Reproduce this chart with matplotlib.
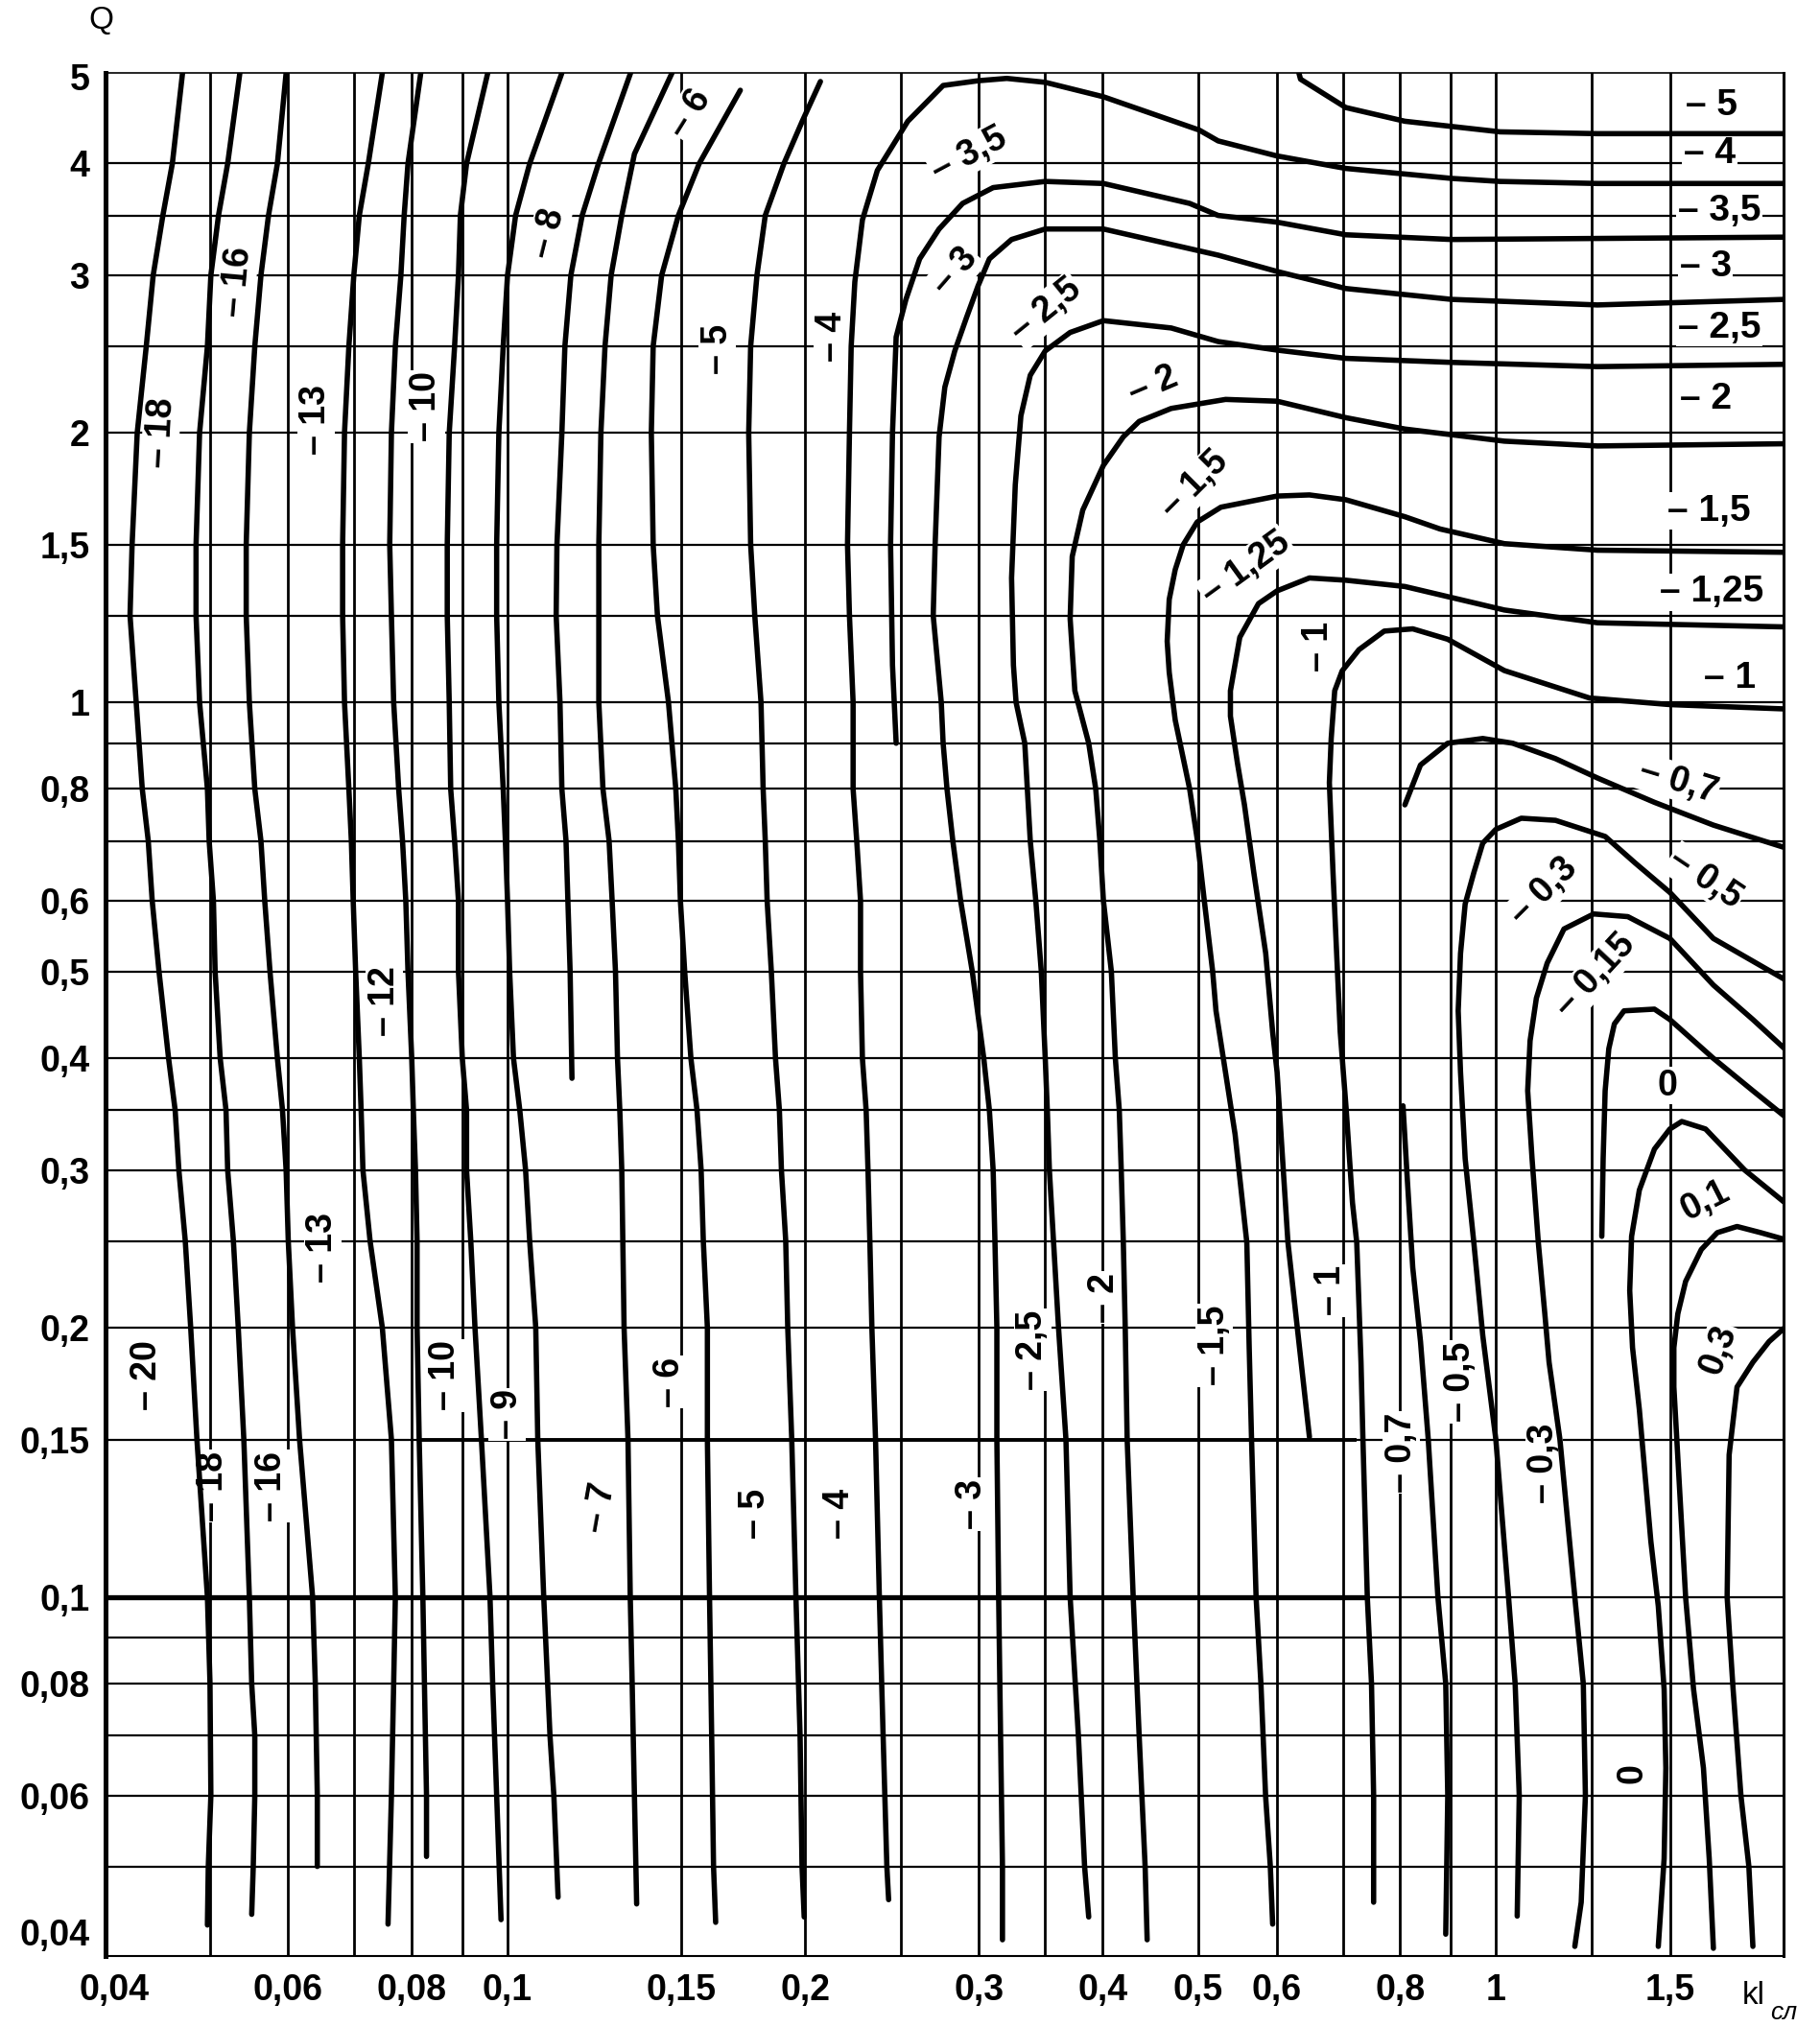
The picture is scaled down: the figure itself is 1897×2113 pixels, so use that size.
import matplotlib
matplotlib.use('Agg')
import matplotlib.pyplot as plt

plt.rcParams['font.family'] = ['Liberation Sans', 'DejaVu Sans']

# ---- axes ticks ----
x_ticks = [0.04, 0.06, 0.08, 0.1, 0.15, 0.2, 0.3, 0.4, 0.5, 0.6, 0.8, 1, 1.5]
x_tick_labels = ['0,04', '0,06', '0,08', '0,1', '0,15', '0,2', '0,3', '0,4', '0,5', '0,6', '0,8', '1', '1,5']
y_ticks = [5, 4, 3, 2, 1.5, 1, 0.8, 0.6, 0.5, 0.4, 0.3, 0.2, 0.15, 0.1, 0.08, 0.06, 0.04]
y_tick_labels = ['5', '4', '3', '2', '1,5', '1', '0,8', '0,6', '0,5', '0,4', '0,3', '0,2', '0,15', '0,1', '0,08', '0,06', '0,04']

grid_x = [0.05, 0.06, 0.07, 0.08, 0.09, 0.1, 0.15, 0.2, 0.25, 0.3, 0.35, 0.4, 0.5, 0.6, 0.7, 0.8, 0.9, 1.0, 1.25, 1.5]
grid_y = [4, 3.5, 3, 2.5, 2, 1.5, 1.25, 1, 0.9, 0.8, 0.7, 0.6, 0.5, 0.4, 0.35, 0.3, 0.25, 0.2, 0.15, 0.1,
          0.09, 0.08, 0.07, 0.06, 0.05]
heavy_01_span = [0.0392, 0.74]     # thick line at Q = 0,1
heavy_015_span = [0.082, 0.72]     # thick line at Q = 0,15

# ---- contour lines (kl, Q) ----
k_m20 = [(0.0469, 5.05), (0.0458, 4.0), (0.0448, 3.5), (0.0438, 3.0), (0.0431, 2.5), (0.0422, 2.0), (0.0417, 1.5),
         (0.0415, 1.25), (0.0421, 1.0), (0.0427, 0.8), (0.0433, 0.7), (0.0437, 0.6), (0.0444, 0.5), (0.0454, 0.4),
         (0.0461, 0.35), (0.0465, 0.3), (0.0472, 0.25), (0.0478, 0.2), (0.0485, 0.15), (0.0497, 0.1),
         (0.0500, 0.08), (0.0501, 0.06), (0.0498, 0.05), (0.0497, 0.043)]
k_m18 = [(0.0536, 5.05), (0.0521, 4.0), (0.0510, 3.5), (0.0501, 3.0), (0.0497, 2.5), (0.0488, 2.0), (0.0484, 1.5),
         (0.0484, 1.25), (0.0488, 1.0), (0.0497, 0.8), (0.0499, 0.7), (0.0504, 0.6), (0.0506, 0.5), (0.0512, 0.4),
         (0.0519, 0.35), (0.0521, 0.3), (0.0528, 0.25), (0.0534, 0.2), (0.0541, 0.15), (0.0548, 0.1),
         (0.0551, 0.08), (0.0555, 0.07), (0.0555, 0.06), (0.0553, 0.05), (0.0551, 0.0442)]
k_m16 = [(0.0597, 5.05), (0.0585, 4.0), (0.0573, 3.5), (0.0563, 3.0), (0.0555, 2.5), (0.0548, 2.0), (0.0544, 1.5),
         (0.0544, 1.25), (0.0548, 1.0), (0.0555, 0.8), (0.0563, 0.7), (0.0568, 0.6), (0.0575, 0.5), (0.0585, 0.4),
         (0.0592, 0.35), (0.0597, 0.3), (0.0600, 0.25), (0.0606, 0.2), (0.0616, 0.15), (0.0635, 0.1),
         (0.0639, 0.08), (0.0642, 0.06), (0.0642, 0.05)]
k_m13 = [(0.0747, 5.05), (0.0723, 4.0), (0.0708, 3.5), (0.0699, 3.0), (0.0691, 2.5), (0.0684, 2.0), (0.0681, 1.5),
         (0.0681, 1.25), (0.0684, 1.0), (0.0691, 0.8), (0.0695, 0.7), (0.0698, 0.6), (0.0702, 0.5), (0.0708, 0.4),
         (0.0711, 0.35), (0.0714, 0.3), (0.0726, 0.25), (0.0747, 0.2), (0.0763, 0.15), (0.0770, 0.1),
         (0.0767, 0.08), (0.0763, 0.06), (0.0757, 0.0431)]
k_m12 = [(0.0817, 5.05), (0.0793, 4.0), (0.0786, 3.5), (0.0780, 3.0), (0.0770, 2.5), (0.0763, 2.0), (0.0760, 1.5),
         (0.0763, 1.25), (0.0767, 1.0), (0.0776, 0.8), (0.0783, 0.7), (0.0789, 0.6), (0.0793, 0.5), (0.0800, 0.4),
         (0.0803, 0.35), (0.0807, 0.3), (0.0810, 0.25), (0.0810, 0.2), (0.0814, 0.15), (0.0821, 0.1),
         (0.0824, 0.08), (0.0828, 0.06), (0.0828, 0.0513)]
k_m10 = [(0.0955, 5.05), (0.0909, 4.0), (0.0896, 3.5), (0.0892, 3.0), (0.0884, 2.5), (0.0873, 2.0), (0.0869, 1.5),
         (0.0869, 1.25), (0.0873, 1.0), (0.0876, 0.8), (0.0884, 0.7), (0.0892, 0.6), (0.0892, 0.5), (0.0900, 0.4),
         (0.0909, 0.35), (0.0909, 0.3), (0.0918, 0.25), (0.0927, 0.2), (0.0941, 0.15), (0.0960, 0.1),
         (0.0966, 0.08), (0.0975, 0.06), (0.0985, 0.0436)]
k_m9 = [(0.1135, 5.05), (0.1053, 4.0), (0.1019, 3.5), (0.1000, 3.0), (0.0990, 2.5), (0.0980, 2.0), (0.0975, 1.5),
        (0.0975, 1.25), (0.0980, 1.0), (0.0990, 0.8), (0.0995, 0.7), (0.1000, 0.6), (0.1005, 0.5), (0.1014, 0.4),
        (0.1029, 0.35), (0.1043, 0.3), (0.1053, 0.25), (0.1068, 0.2), (0.1073, 0.15), (0.1088, 0.1),
        (0.1104, 0.07), (0.1114, 0.06), (0.1125, 0.0462)]
k_m8 = [(0.1332, 5.05), (0.1236, 4.0), (0.1190, 3.5), (0.1159, 3.0), (0.1143, 2.5), (0.1135, 2.0), (0.1122, 1.5),
        (0.1120, 1.25), (0.1130, 1.0), (0.1135, 0.8), (0.1146, 0.7), (0.1151, 0.6), (0.1157, 0.5), (0.1162, 0.38)]
k_m7 = [(0.1467, 5.05), (0.1344, 4.1), (0.1305, 3.5), (0.1273, 3.0), (0.1255, 2.5), (0.1243, 2.0), (0.1237, 1.5),
        (0.1237, 1.25), (0.1237, 1.0), (0.1249, 0.8), (0.1267, 0.7), (0.1276, 0.6), (0.1286, 0.5), (0.1292, 0.4),
        (0.1299, 0.35), (0.1305, 0.3), (0.1312, 0.2), (0.1324, 0.15), (0.1331, 0.1), (0.1337, 0.08),
        (0.1344, 0.06), (0.1351, 0.0454)]
k_m6 = [(0.1720, 4.83), (0.1563, 4.0), (0.1489, 3.5), (0.1432, 3.0), (0.1404, 2.5), (0.1398, 2.0), (0.1404, 1.5),
        (0.1418, 1.25), (0.1455, 1.0), (0.1480, 0.8), (0.1489, 0.7), (0.1496, 0.6), (0.1511, 0.5), (0.1533, 0.4),
        (0.1555, 0.35), (0.1570, 0.3), (0.1578, 0.25), (0.1593, 0.2), (0.1593, 0.15), (0.1601, 0.1),
        (0.1609, 0.07), (0.1616, 0.05), (0.1624, 0.0433)]
k_m5 = [(0.2073, 4.94), (0.1987, 4.46), (0.1904, 4.0), (0.1823, 3.5), (0.1788, 3.0), (0.1762, 2.5), (0.1754, 2.0),
        (0.1762, 1.5), (0.1779, 1.25), (0.1805, 1.0), (0.1814, 0.8), (0.1823, 0.7), (0.1831, 0.6), (0.1849, 0.5),
        (0.1867, 0.4), (0.1884, 0.35), (0.1893, 0.3), (0.1912, 0.25), (0.1921, 0.2), (0.1939, 0.15),
        (0.1958, 0.1), (0.1977, 0.07), (0.1986, 0.05), (0.1996, 0.0439)]
k_m5_top = [(0.632, 5.05), (0.6344, 4.97), (0.705, 4.62), (0.809, 4.46), (1.01, 4.34), (1.267, 4.32), (1.96, 4.32)]
k_m4 = [(1.96, 3.80), (1.267, 3.80), (1.01, 3.82), (0.902, 3.85), (0.705, 3.95), (0.600, 4.08), (0.5236, 4.24),
        (0.501, 4.36), (0.4008, 4.75), (0.350, 4.93), (0.320, 4.98), (0.2993, 4.95), (0.2759, 4.89),
        (0.2541, 4.46), (0.2367, 3.93), (0.2286, 3.46), (0.2246, 2.95), (0.2227, 2.5), (0.2218, 2.0),
        (0.2208, 1.5), (0.2218, 1.25), (0.2237, 1.0), (0.2237, 0.8), (0.2256, 0.7), (0.2276, 0.6), (0.2276, 0.5),
        (0.2286, 0.4), (0.2306, 0.35), (0.2316, 0.3), (0.2326, 0.25), (0.2337, 0.2), (0.2357, 0.15),
        (0.2378, 0.1), (0.2399, 0.07), (0.2420, 0.05), (0.2430, 0.0459)]
k_m3_5 = [(1.96, 3.31), (0.902, 3.29), (0.705, 3.33), (0.6007, 3.44), (0.5236, 3.50), (0.49, 3.61), (0.4008, 3.80),
          (0.350, 3.82), (0.310, 3.76), (0.2887, 3.61), (0.2733, 3.38), (0.2612, 3.13), (0.2530, 2.82),
          (0.2473, 2.56), (0.2452, 2.0), (0.2441, 1.5), (0.2452, 1.1), (0.2473, 0.9)]
k_m3 = [(1.96, 2.82), (1.267, 2.78), (0.902, 2.82), (0.705, 2.90), (0.6007, 3.03), (0.5236, 3.16), (0.4008, 3.38),
        (0.350, 3.38), (0.3236, 3.29), (0.3073, 3.13), (0.2993, 2.92), (0.2913, 2.69), (0.2835, 2.47),
        (0.2770, 2.25), (0.2733, 1.98), (0.2708, 1.5), (0.2696, 1.25), (0.2747, 1.0), (0.2759, 0.9),
        (0.2784, 0.8), (0.2822, 0.7), (0.2874, 0.6), (0.2953, 0.5), (0.3033, 0.4), (0.3073, 0.35), (0.3100, 0.3),
        (0.3113, 0.25), (0.3127, 0.2), (0.3127, 0.15), (0.3140, 0.1), (0.3154, 0.07), (0.3168, 0.05),
        (0.3168, 0.0414)]
k_m2_5 = [(1.96, 2.386), (1.267, 2.372), (0.902, 2.398), (0.705, 2.423), (0.6007, 2.475), (0.5236, 2.53),
          (0.4694, 2.62), (0.4008, 2.67), (0.3709, 2.59), (0.350, 2.47), (0.338, 2.32), (0.3307, 2.09),
          (0.3264, 1.75), (0.3236, 1.377), (0.3250, 1.1), (0.3270, 1.0), (0.3337, 0.9), (0.3380, 0.7),
          (0.3424, 0.6), (0.3468, 0.5), (0.3500, 0.4), (0.3517, 0.35), (0.3534, 0.3), (0.3568, 0.25),
          (0.3610, 0.2), (0.3673, 0.15), (0.3709, 0.1), (0.3781, 0.07), (0.3836, 0.05), (0.3873, 0.0439)]
k_m2 = [(1.96, 1.945), (1.267, 1.934), (1.02, 1.958), (0.809, 2.02), (0.705, 2.08), (0.6007, 2.17), (0.5328, 2.18),
        (0.4694, 2.13), (0.4356, 2.06), (0.4198, 1.98), (0.4008, 1.84), (0.382, 1.64), (0.3727, 1.455),
        (0.3709, 1.24), (0.375, 1.03), (0.3873, 0.9), (0.3937, 0.8), (0.3975, 0.7), (0.4008, 0.6), (0.4083, 0.5),
        (0.4121, 0.4), (0.4159, 0.35), (0.4178, 0.3), (0.4198, 0.25), (0.4217, 0.2), (0.4236, 0.15),
        (0.4296, 0.1), (0.4356, 0.07), (0.4417, 0.05), (0.4438, 0.0414)]
k_m1_5 = [(1.96, 1.471), (1.267, 1.479), (1.02, 1.504), (0.878, 1.562), (0.809, 1.612), (0.705, 1.684),
          (0.6477, 1.705), (0.6007, 1.70), (0.527, 1.652), (0.4986, 1.59), (0.4827, 1.50), (0.4738, 1.407),
          (0.4672, 1.303), (0.465, 1.17), (0.4672, 1.08), (0.4738, 0.955), (0.490, 0.8), (0.499, 0.7),
          (0.507, 0.6), (0.517, 0.5), (0.521, 0.452), (0.5447, 0.329), (0.5598, 0.249), (0.5629, 0.19),
          (0.566, 0.15), (0.572, 0.1), (0.5785, 0.08), (0.5848, 0.06), (0.5913, 0.05), (0.5945, 0.0431)]
k_m1_25 = [(1.96, 1.214), (1.267, 1.227), (1.02, 1.268), (0.809, 1.347), (0.705, 1.369), (0.6477, 1.377),
           (0.6007, 1.332), (0.5752, 1.289), (0.5507, 1.182), (0.5388, 1.03), (0.5388, 0.965), (0.5477, 0.855),
           (0.5567, 0.768), (0.569, 0.645), (0.585, 0.524), (0.5945, 0.428), (0.6007, 0.386), (0.6084, 0.309),
           (0.6161, 0.249), (0.6319, 0.193), (0.6477, 0.151)]
k_m1 = [(1.96, 0.983), (1.5, 0.994), (1.244, 1.011), (1.02, 1.085), (0.894, 1.176), (0.824, 1.208),
        (0.771, 1.201), (0.727, 1.145), (0.699, 1.084), (0.687, 1.03), (0.6814, 0.911), (0.6785, 0.813),
        (0.6843, 0.645), (0.6901, 0.524), (0.6959, 0.428), (0.7056, 0.351), (0.716, 0.276), (0.7232, 0.249),
        (0.7304, 0.183), (0.7337, 0.15), (0.7412, 0.1), (0.7485, 0.08), (0.7522, 0.06), (0.7522, 0.0456)]
k_m0_7 = [(0.809, 0.768), (0.839, 0.851), (0.894, 0.90), (0.970, 0.911), (1.04, 0.90), (1.149, 0.865),
          (1.267, 0.823), (1.447, 0.773), (1.66, 0.729), (1.96, 0.688)]
k_m0_7_low = [(0.8055, 0.354), (0.813, 0.297), (0.824, 0.2334), (0.839, 0.193), (0.8543, 0.15), (0.8737, 0.1),
              (0.8898, 0.08), (0.894, 0.06), (0.8898, 0.042)]
k_m0_5 = [(1.96, 0.49), (1.66, 0.5445), (1.5, 0.613), (1.384, 0.661), (1.29, 0.708), (1.149, 0.738), (1.061, 0.742),
          (1.0, 0.721), (0.970, 0.696), (0.950, 0.645), (0.931, 0.595), (0.921, 0.524), (0.916, 0.452),
          (0.921, 0.386), (0.931, 0.309), (0.950, 0.249), (0.970, 0.196), (1.0, 0.15), (1.030, 0.1),
          (1.046, 0.08), (1.056, 0.06), (1.051, 0.044)]
k_m0_3 = [(1.96, 0.41), (1.82, 0.442), (1.66, 0.483), (1.5, 0.5445), (1.36, 0.576), (1.256, 0.580), (1.172, 0.558),
          (1.127, 0.511), (1.099, 0.467), (1.083, 0.4185), (1.077, 0.368), (1.088, 0.309), (1.104, 0.249),
          (1.121, 0.207), (1.132, 0.183), (1.161, 0.15), (1.202, 0.1), (1.226, 0.08), (1.232, 0.06),
          (1.22, 0.0456), (1.202, 0.0407)]
k_m0_15 = [(1.96, 0.3445), (1.82, 0.368), (1.66, 0.40), (1.5, 0.442), (1.447, 0.454), (1.348, 0.452),
           (1.318, 0.437), (1.301, 0.41), (1.29, 0.368), (1.284, 0.309), (1.28, 0.253)]
k_0 = [(1.96, 0.276), (1.786, 0.30), (1.63, 0.3335), (1.542, 0.34), (1.5, 0.3335), (1.447, 0.3167), (1.397, 0.285),
       (1.372, 0.253), (1.366, 0.22), (1.375, 0.19), (1.397, 0.162), (1.435, 0.1154), (1.46, 0.0977),
       (1.48, 0.0789), (1.486, 0.0644), (1.48, 0.051), (1.46, 0.0407)]
k_0_1 = [(1.96, 0.251), (1.854, 0.2554), (1.754, 0.2595), (1.675, 0.2554), (1.614, 0.2446), (1.556, 0.2253),
         (1.528, 0.2073), (1.514, 0.19), (1.514, 0.1717), (1.556, 0.1), (1.585, 0.0789), (1.622, 0.0644),
         (1.644, 0.051), (1.66, 0.0405)]
k_0_3 = [(1.96, 0.2), (1.89, 0.193), (1.82, 0.183), (1.754, 0.1717), (1.722, 0.1442), (1.714, 0.1),
         (1.738, 0.0789), (1.77, 0.06), (1.803, 0.05), (1.82, 0.0407)]

curves = [k_m20, k_m18, k_m16, k_m13, k_m12, k_m10, k_m9, k_m8, k_m7, k_m6, k_m5, k_m5_top, k_m4, k_m3_5,
          k_m3, k_m2_5, k_m2, k_m1_5, k_m1_25, k_m1, k_m0_7, k_m0_7_low, k_m0_5, k_m0_3, k_m0_15, k_0, k_0_1, k_0_3]

# labels inside the field: text, kl, Q, rotation
field_labels = [
    ('– 18', 0.0446, 2.0, 87), ('– 16', 0.0533, 2.95, 85), ('– 13', 0.064, 2.07, 90), ('– 10', 0.0827, 2.14, 90),
    ('– 8', 0.110, 3.34, 76), ('– 6', 0.153, 4.55, 58), ('– 5', 0.163, 2.48, 90), ('– 4', 0.213, 2.56, 90),
    ('– 3,5', 0.293, 4.09, 28), ('– 3', 0.284, 3.03, 49), ('– 2,5', 0.351, 2.74, 39), ('– 2', 0.45, 2.26, 23),
    ('– 1,5', 0.496, 1.75, 45), ('– 1,25', 0.559, 1.41, 36), ('– 1', 0.661, 1.155, 90),
    ('– 12', 0.0751, 0.463, 90), ('– 13', 0.065, 0.246, 90),
    ('– 0,7', 1.53, 0.815, -17), ('– 0,5', 1.63, 0.635, -34), ('– 0,3', 1.118, 0.614, 45),
    ('– 0,15', 1.26, 0.495, 47), ('0', 1.49, 0.373, 0), ('0,1', 1.63, 0.277, 27), ('0,3', 1.68, 0.189, 70),
    ('– 20', 0.0432, 0.177, 90), ('– 18', 0.0503, 0.133, 90), ('– 16', 0.0577, 0.133, 90),
    ('– 10', 0.0865, 0.177, 90), ('– 9', 0.100, 0.16, 90), ('– 7', 0.1241, 0.126, 80), ('– 6', 0.146, 0.174, 90),
    ('– 5', 0.178, 0.124, 90), ('– 4', 0.2165, 0.124, 90), ('– 3', 0.295, 0.127, 90), ('– 2,5', 0.340, 0.189, 90),
    ('– 2', 0.402, 0.216, 90), ('– 1,5', 0.519, 0.191, 90), ('– 1', 0.681, 0.22, 90), ('– 0,7', 0.803, 0.145, 90),
    ('– 0,5', 0.92, 0.174, 90), ('– 0,3', 1.118, 0.141, 90), ('0', 1.375, 0.0635, 90),
]
# labels at the right edge: text, kl, Q
side_labels = [('– 5', 1.556, 4.64), ('– 4', 1.549, 4.10), ('– 3,5', 1.528, 3.54), ('– 3', 1.535, 3.07),
               ('– 2,5', 1.528, 2.62), ('– 2', 1.535, 2.18), ('– 1,5', 1.493, 1.636), ('– 1,25', 1.465, 1.327),
               ('– 1', 1.622, 1.064)]

fig = plt.figure(figsize=(18.97, 21.13), dpi=100)
ax = fig.add_axes([0.058, 0.035, 0.922, 0.929])
ax.set_xscale('log')
ax.set_yscale('log')
ax.set_xlim(0.0392, 1.955)
ax.set_ylim(0.0397, 5.05)

for v in grid_x:
    ax.axvline(v, color='black', lw=2.0, zorder=1)
for v in grid_y:
    ax.axhline(v, color='black', lw=1.6, zorder=1)
ax.plot(heavy_01_span, [0.1, 0.1], color='black', lw=3.8, zorder=1)
ax.plot(heavy_015_span, [0.15, 0.15], color='black', lw=2.8, zorder=1)

for pts in curves:
    xs = [p[0] for p in pts]
    ys = [p[1] for p in pts]
    ax.plot(xs, ys, color='black', lw=4.0, solid_capstyle='round', solid_joinstyle='round', zorder=3)

lbl_box = dict(facecolor='white', edgecolor='none', pad=1.0)
for txt, x, y, rot in field_labels:
    ax.text(x, y, txt, rotation=rot, rotation_mode='anchor', ha='center', va='center',
            fontsize=27, fontweight='bold', bbox=lbl_box, zorder=2)
for txt, x, y in side_labels:
    ax.text(x, y, txt, ha='left', va='center', fontsize=28, fontweight='bold', bbox=lbl_box, zorder=2)

ax.minorticks_off()
ax.set_xticks(x_ticks)
ax.set_xticklabels(x_tick_labels, fontsize=27, fontweight='bold')
ax.set_yticks(y_ticks)
ax.set_yticklabels(y_tick_labels, fontsize=27, fontweight='bold')
ax.minorticks_off()
ax.tick_params(axis='x', length=0, pad=13)
ax.tick_params(axis='y', length=0, pad=12)
# the lowest Q label sits just above the corner
ax.get_yticklabels()[-1].set_va('bottom')

ax.spines['left'].set_linewidth(3.6)
ax.spines['bottom'].set_linewidth(1.5)
ax.spines['right'].set_linewidth(2.2)
ax.spines['top'].set_linewidth(1.2)

fig.text(0.0553, 0.990, 'Q', fontsize=24, ha='center', va='center')
fig.text(0.957, 0.0156, 'kl', fontsize=24, ha='left', va='center')
fig.text(0.9725, 0.0072, 'сл', fontsize=19, style='italic', ha='left', va='center')

fig.savefig('out.png', dpi=100)
